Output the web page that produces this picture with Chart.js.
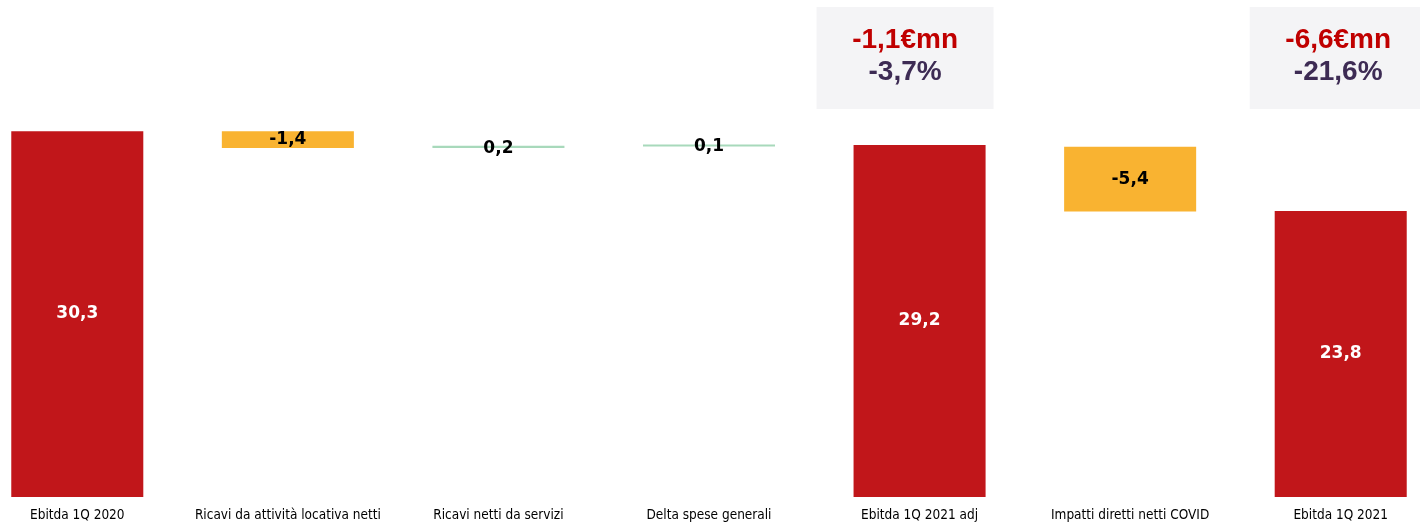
<!DOCTYPE html>
<html>
<head>
<meta charset="utf-8">
<script src="https://cdn.jsdelivr.net/npm/chart.js@4.4.0/dist/chart.umd.min.js"></script>
<style>
html,body{margin:0;padding:0;background:#fff;overflow:hidden;width:1420px;height:523px;}
#wrap{position:absolute;left:-28px;top:0;width:1474px;height:523px;}
</style>
</head>
<body>
<div id="wrap"><canvas id="c"></canvas></div>
<script>
const categories = ["Ebitda 1Q 2020","Ricavi da attività locativa netti","Ricavi netti da servizi","Delta spese generali","Ebitda 1Q 2021 adj","Impatti diretti netti COVID","Ebitda 1Q 2021"];
const barStart = [0, 30.3, 28.9, 29.03, 0, 29.0, 0];
const barEnd   = [30.3, 28.9, 29.08, 29.2, 29.15, 23.65, 23.68];
const valueLabels = ["30,3","-1,4","0,2","0,1","29,2","-5,4","23,8"];
const barKind = ["total","neg","pos","pos","total","neg","total"];
const boxIndex = [4, 6];
const boxLine1 = ["-1,1€mn","-6,6€mn"];
const boxLine2 = ["-3,7%","-21,6%"];

const kindColor = {total:"#C1161A", neg:"#F9B331", pos:"#A8D9BB"};
const data = categories.map((c,i)=>[barStart[i], barEnd[i]]);

const labelPlugin = {
  id:'valLabels',
  afterDatasetsDraw(chart){
    const ctx = chart.ctx;
    const meta = chart.getDatasetMeta(0);
    ctx.save();
    ctx.font = "bold 17px 'DejaVu Sans'";
    ctx.textAlign = "center";
    ctx.textBaseline = "middle";
    meta.data.forEach((el,i)=>{
      const top = Math.min(el.y, el.base), bot = Math.max(el.y, el.base);
      let y = (top+bot)/2;
      if (barKind[i]==='pos') y += 1.5;
      ctx.fillStyle = barKind[i]==='total' ? "#FFFFFF" : "#000000";
      ctx.fillText(valueLabels[i], el.x, y);
    });
    const xs = chart.scales.x;
    const offsets = [-103, -91];
    boxIndex.forEach((idx,k)=>{
      const cx = xs.getPixelForValue(idx);
      const left = cx + offsets[k];
      ctx.fillStyle = "#F4F4F6";
      ctx.fillRect(left, 7, 177, 102);
      const tx = left + 88.5;
      ctx.font = "bold 28px 'Liberation Sans'";
      ctx.fillStyle = "#C00000";
      ctx.fillText(boxLine1[k], tx, 40);
      ctx.fillStyle = "#3D2B54";
      ctx.fillText(boxLine2[k], tx, 72);
    });
    ctx.restore();
  }
};

new Chart(document.getElementById('c'), {
  type:'bar',
  data:{
    labels: categories,
    datasets:[{
      data: data,
      backgroundColor: barKind.map(k=>kindColor[k]),
      borderWidth:0,
      categoryPercentage:1,
      barPercentage:0.627
    }]
  },
  options:{
    responsive:true,
    maintainAspectRatio:false,
    animation:false,
    layout:{padding:{top:14,left:0,right:0,bottom:0}},
    plugins:{legend:{display:false},tooltip:{enabled:false}},
    scales:{
      x:{
        grid:{display:false,drawTicks:false},
        border:{display:false},
        ticks:{color:"#000",font:{family:"'DejaVu Sans Condensed'",size:13.5},padding:10,maxRotation:0,autoSkip:false},
        afterFit(s){ s.height = 26; }
      },
      y:{display:false,min:0,max:40}
    }
  },
  plugins:[labelPlugin]
});
</script>
</body>
</html>
